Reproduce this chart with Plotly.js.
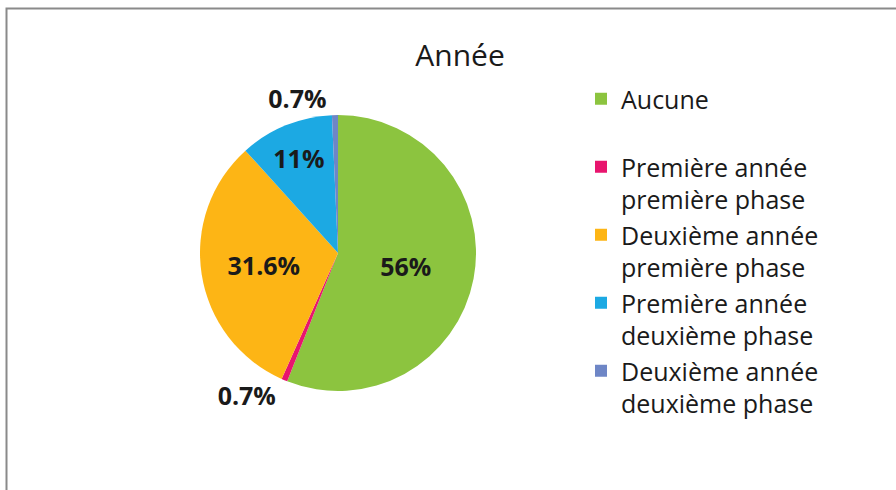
<!DOCTYPE html>
<html>
<head>
<meta charset="utf-8">
<script src="https://cdn.plot.ly/plotly-3.0.1.min.js"></script>
<style>html,body{margin:0;padding:0;background:#fff;}#chart{width:896px;height:490px;}</style>
</head>
<body>
<div id="chart"></div>
<script>
const categories = [
  "Aucune<br>\u00a0",
  "Première année<br>première phase",
  "Deuxième année<br>première phase",
  "Première année<br>deuxième phase",
  "Deuxième année<br>deuxième phase"
];
const values = [56, 0.7, 31.6, 11, 0.7];
const colors = ["#8CC43F", "#E8156E", "#FDB515", "#1CA9E3", "#6E86C6"];
const textPositions = ["inside", "outside", "inside", "inside", "outside"];

const W = 896, H = 490;
const cx = 338, cy = 253, r = 138;
const labelFont = { family: "Open Sans, sans-serif", size: 25, color: "#1a1a1a", weight: "bold" };

const trace = {
  type: "pie",
  labels: categories,
  values: values,
  sort: false,
  direction: "clockwise",
  rotation: 0,
  marker: { colors: colors, line: { width: 0 } },
  texttemplate: "%{value}%",
  textposition: textPositions,
  insidetextorientation: "horizontal",
  textfont: labelFont,
  outsidetextfont: labelFont,
  insidetextfont: labelFont,
  hoverinfo: "label+percent",
  domain: {
    x: [(cx - r) / W, (cx + r) / W],
    y: [(H - cy - r) / H, (H - cy + r) / H]
  }
};

const layout = {
  width: W, height: H,
  margin: { l: 0, r: 0, t: 0, b: 0 },
  paper_bgcolor: "#ffffff",
  title: {
    text: "Année",
    font: { family: "Open Sans, sans-serif", size: 30, color: "#1a1a1a" },
    x: 460 / W, xanchor: "center",
    y: 1 - 55 / H, yanchor: "middle"
  },
  showlegend: true,
  legend: {
    x: 581 / W, xanchor: "left",
    y: 1 - 76 / H, yanchor: "top",
    font: { family: "Open Sans, sans-serif", size: 25, color: "#1a1a1a" },
    bgcolor: "rgba(0,0,0,0)",
    traceorder: "normal",
    valign: "top"
  },
  shapes: [{
    type: "rect", xref: "paper", yref: "paper",
    x0: 6.5 / W, x1: 1.2, y0: -0.2, y1: 1 - 8.5 / H,
    line: { color: "#8a8a8a", width: 2 },
    fillcolor: "rgba(0,0,0,0)"
  }]
};

Plotly.newPlot("chart", [trace], layout, { displayModeBar: false, staticPlot: true });
</script>
</body>
</html>
